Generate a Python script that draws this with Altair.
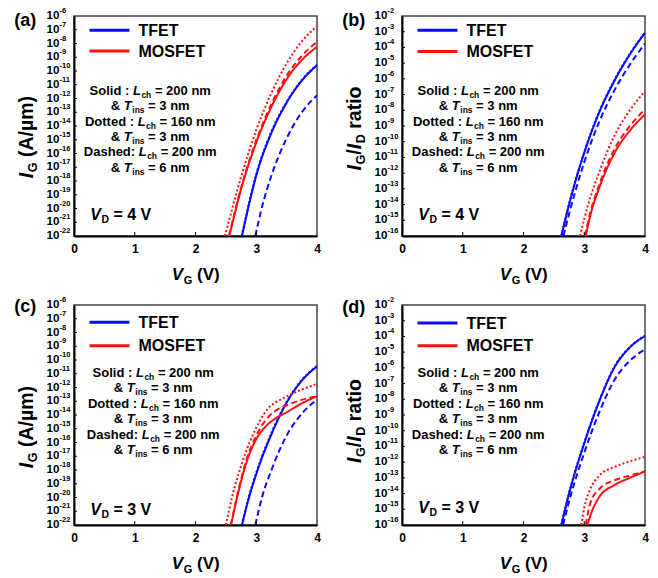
import altair as alt
import pandas as pd

# ---------------- data (log10 values) ----------------
VG_TICKS = [1, 2, 3]
EXP_IG = list(range(-22, -5))      # I_G axis: 1e-22 .. 1e-6
EXP_RATIO = list(range(-16, -1))   # I_G/I_D axis: 1e-16 .. 1e-2

# (a) I_G, V_D = 4 V
a_tfet_solid_vg = [2.766, 2.85, 3.0, 3.25, 3.5, 3.75, 4.0]
a_tfet_solid_lg = [-22, -20.3, -17.6, -14.5, -12.3, -10.7, -9.58]
a_tfet_dot_vg = [2.76, 2.85, 3.0, 3.25, 3.5, 3.75, 4.0]
a_tfet_dot_lg = [-22, -20.2, -17.5, -14.4, -12.25, -10.65, -9.55]
a_tfet_dash_vg = [2.985, 3.1, 3.25, 3.5, 3.75, 4.0]
a_tfet_dash_lg = [-22, -19.8, -17.6, -14.9, -13.0, -11.77]
a_mos_solid_vg = [2.557, 2.75, 3.0, 3.25, 3.5, 3.75, 4.0]
a_mos_solid_lg = [-22, -18.6, -15.2, -12.6, -10.6, -9.2, -8.24]
a_mos_dot_vg = [2.485, 2.75, 3.0, 3.25, 3.5, 3.75, 4.0]
a_mos_dot_lg = [-22, -17.7, -14.3, -11.6, -9.45, -7.85, -6.73]
a_mos_dash_vg = [2.55, 2.75, 3.0, 3.25, 3.5, 3.75, 4.0]
a_mos_dash_lg = [-22, -18.5, -15.05, -12.4, -10.35, -8.9, -7.88]

# (b) I_G/I_D, V_D = 4 V
b_tfet_solid_vg = [2.624, 2.75, 3.0, 3.25, 3.5, 3.75, 4.0]
b_tfet_solid_lg = [-16, -14.0, -10.7, -8.1, -6.1, -4.45, -3.07]
b_tfet_dot_vg = [2.62, 2.75, 3.0, 3.25, 3.5, 3.75, 4.0]
b_tfet_dot_lg = [-16, -13.95, -10.65, -8.05, -6.05, -4.4, -3.05]
b_tfet_dash_vg = [2.657, 2.75, 3.0, 3.25, 3.5, 3.75, 4.0]
b_tfet_dash_lg = [-16, -14.6, -11.3, -8.7, -6.7, -5.1, -3.75]
b_mos_solid_vg = [3.025, 3.1, 3.25, 3.5, 3.75, 4.0]
b_mos_solid_lg = [-16, -14.7, -12.9, -10.7, -9.3, -8.26]
b_mos_dot_vg = [2.931, 3.0, 3.25, 3.5, 3.75, 4.0]
b_mos_dot_lg = [-16, -14.9, -11.9, -9.6, -8.0, -6.79]
b_mos_dash_vg = [3.01, 3.1, 3.25, 3.5, 3.75, 4.0]
b_mos_dash_lg = [-16, -14.5, -12.7, -10.45, -9.0, -7.94]

# (c) I_G, V_D = 3 V
c_tfet_solid_vg = [2.766, 2.85, 3.0, 3.25, 3.5, 3.75, 4.0]
c_tfet_solid_lg = [-22, -20.5, -18.3, -15.4, -13.1, -11.5, -10.46]
c_tfet_dot_vg = [2.76, 2.85, 3.0, 3.25, 3.5, 3.75, 4.0]
c_tfet_dot_lg = [-22, -20.4, -18.2, -15.3, -13.05, -11.45, -10.43]
c_tfet_dash_vg = [2.985, 3.1, 3.25, 3.5, 3.75, 4.0]
c_tfet_dash_lg = [-22, -19.9, -18.0, -15.5, -13.9, -12.88]
c_mos_solid_vg = [2.585, 2.7, 2.85, 3.0, 3.15, 3.3, 3.5, 3.75, 4.0]
c_mos_solid_lg = [-22, -19.7, -17.3, -15.75, -14.85, -14.3, -13.8, -13.15, -12.64]
c_mos_dot_vg = [2.50, 2.6, 2.75, 2.9, 3.05, 3.2, 3.35, 3.5, 3.75, 4.0]
c_mos_dot_lg = [-22, -20.0, -17.7, -15.9, -14.5, -13.5, -13.0, -12.65, -12.15, -11.74]
c_mos_dash_vg = [2.58, 2.7, 2.85, 3.0, 3.15, 3.3, 3.5, 3.75, 4.0]
c_mos_dash_lg = [-22, -19.6, -17.1, -15.5, -14.4, -13.75, -13.3, -12.9, -12.62]

# (d) I_G/I_D, V_D = 3 V
d_tfet_solid_vg = [2.624, 2.75, 3.0, 3.25, 3.5, 3.75, 4.0]
d_tfet_solid_lg = [-16, -14.0, -10.8, -8.1, -5.95, -4.7, -3.97]
d_tfet_dot_vg = [2.62, 2.75, 3.0, 3.25, 3.5, 3.75, 4.0]
d_tfet_dot_lg = [-16, -13.95, -10.75, -8.05, -5.9, -4.68, -3.96]
d_tfet_dash_vg = [2.651, 2.75, 3.0, 3.25, 3.5, 3.75, 4.0]
d_tfet_dash_lg = [-16, -14.5, -11.4, -8.8, -6.75, -5.55, -4.82]
d_mos_solid_vg = [3.05, 3.15, 3.25, 3.5, 3.75, 4.0]
d_mos_solid_lg = [-16, -14.9, -14.2, -13.45, -13.0, -12.59]
d_mos_dot_vg = [2.952, 3.0, 3.1, 3.25, 3.5, 3.75, 4.0]
d_mos_dot_lg = [-16, -14.9, -13.7, -12.85, -12.3, -11.95, -11.66]
d_mos_dash_vg = [3.025, 3.1, 3.25, 3.5, 3.75, 4.0]
d_mos_dash_lg = [-16, -14.6, -13.7, -13.15, -12.85, -12.59]

# ---------------- styling ----------------
W, H = 243, 220
FONT = "Liberation Sans"
BLUE = "#0a0aff"
RED = "#ff1010"
DASH = {"solid": [1, 0], "dot": [2, 2.2], "dash": [6, 3.5]}
ONE = pd.DataFrame({"k": [0]})

CW = {' ': 278, '&': 722, '(': 333, ')': 333, ':': 333, '=': 584, '/': 278, '-': 333,
      'A': 722, 'D': 722, 'E': 667, 'F': 611, 'G': 778, 'I': 278, 'L': 611, 'M': 833,
      'O': 778, 'S': 667, 'T': 611, 'V': 667, 'a': 556, 'c': 556, 'd': 611, 'e': 556,
      'h': 611, 'i': 278, 'l': 278, 'm': 889, 'n': 611, 'o': 611, 'r': 389, 's': 556,
      't': 333, '\u00b5': 611}


def tw(s, size):
    return sum(CW.get(ch, 556) for ch in s) * size / 1000.0


def rich(pieces, x, y, size, anchor="center", angle=0, sub_scale=0.65):
    sizes = [size * sub_scale if k == "s" else size for _, k in pieces]
    widths = [tw(t, fs) for (t, _), fs in zip(pieces, sizes)]
    off = -sum(widths) / 2 if anchor == "center" else 0.0
    marks = []
    for (t, k), fs, w in zip(pieces, sizes, widths):
        lead = len(t) - len(t.lstrip(" "))
        body = t.strip(" ")
        o = off + tw(" " * lead, fs)
        shift = 0.36 * size + (0.22 * size if k == "s" else 0.0)
        if angle == 0:
            px, py = x + o, y + shift
        else:
            px, py = x + shift, y - o
        if body:
            marks.append(
                alt.Chart(ONE).mark_text(
                    text=body, font=FONT, fontSize=fs, fontWeight="bold",
                    fontStyle="italic" if k == "i" else "normal",
                    align="left", baseline="alphabetic", angle=angle, color="black",
                ).encode(x=alt.value(px), y=alt.value(py))
            )
        off += w + (0.5 if k == "i" else 0.0)
    return marks


BLOCK = [
    [("Solid : ", "n"), ("L", "i"), ("ch", "s"), (" = 200 nm", "n")],
    [("& ", "n"), ("T", "i"), ("ins", "s"), (" = 3 nm", "n")],
    [("Dotted : ", "n"), ("L", "i"), ("ch", "s"), (" = 160 nm", "n")],
    [("& ", "n"), ("T", "i"), ("ins", "s"), (" = 3 nm", "n")],
    [("Dashed: ", "n"), ("L", "i"), ("ch", "s"), (" = 200 nm", "n")],
    [("& ", "n"), ("T", "i"), ("ins", "s"), (" = 6 nm", "n")],
]

TITLE_IG = [("I", "i"), ("G", "s"), (" (A/\u00b5m)", "n")]
TITLE_RATIO = [("I", "i"), ("G", "s"), ("/", "n"), ("I", "i"), ("D", "s"), (" ratio", "n")]


def panel(tag, series, exps, ytitle, ytitle_cy, vd, p):
    ymin, ymax = exps[0], exps[-1]
    xs = alt.Scale(domain=[0, 4], nice=False, zero=False)
    ys = alt.Scale(domain=[ymin, ymax], nice=False, zero=False)
    xaxis = alt.Axis(values=[0, 1, 2, 3, 4], title=None, grid=False, ticks=False, tickSize=0,
                     labelFont=FONT, labelFontSize=12, labelFontWeight="bold", labelColor="black",
                     labelPadding=7, labelFlush=False, domainColor="black", domainWidth=2)
    yaxis = alt.Axis(title=None, grid=False, ticks=False, labels=False, tickSize=0,
                     domainColor="black", domainWidth=2)
    layers = []
    for (vg, lg, color, style) in series:
        df = pd.DataFrame({"vg": vg, "lg": lg})
        layers.append(
            alt.Chart(df).mark_line(color=color, strokeWidth=2, strokeDash=DASH[style],
                                    interpolate="monotone", clip=True)
            .encode(x=alt.X("vg:Q", scale=xs, axis=xaxis), y=alt.Y("lg:Q", scale=ys, axis=yaxis))
        )
    # inner ticks
    ydf = pd.DataFrame({"e": exps[1:-1]})
    layers.append(alt.Chart(ydf).mark_rule(color="black", strokeWidth=1)
                  .encode(y=alt.Y("e:Q", scale=ys, axis=yaxis), x=alt.value(0), x2=alt.value(3)))
    xdf = pd.DataFrame({"v": VG_TICKS})
    layers.append(alt.Chart(xdf).mark_rule(color="black", strokeWidth=1)
                  .encode(x=alt.X("v:Q", scale=xs, axis=xaxis), y=alt.value(H), y2=alt.value(H - 4)))
    # y tick labels 10^n
    ldf = pd.DataFrame({"e": exps, "base": ["10"] * len(exps), "sup": [str(e) for e in exps]})
    layers.append(alt.Chart(ldf).mark_text(font=FONT, fontSize=11.5, fontWeight="bold", color="black",
                                           align="left", baseline="middle")
                  .encode(y=alt.Y("e:Q", scale=ys, axis=yaxis), x=alt.value(-27.5), text="base:N"))
    layers.append(alt.Chart(ldf).mark_text(font=FONT, fontSize=7.5, fontWeight="bold", color="black",
                                           align="left", baseline="middle", dy=-5)
                  .encode(y=alt.Y("e:Q", scale=ys, axis=yaxis), x=alt.value(-14.5), text="sup:N"))
    # panel tag
    layers.append(alt.Chart(ONE).mark_text(text=tag, font=FONT, fontSize=18, fontWeight="bold",
                                           color="black", align="left", baseline="middle")
                  .encode(x=alt.value(-59.7), y=alt.value(p["tag_y"])))
    # legend
    for ly, color, name in [(p["leg1"], BLUE, "TFET"), (p["leg2"], RED, "MOSFET")]:
        layers.append(alt.Chart(ONE).mark_rule(color=color, strokeWidth=3)
                      .encode(x=alt.value(15.5), x2=alt.value(55.5), y=alt.value(ly)))
        layers.append(alt.Chart(ONE).mark_text(text=name, font=FONT, fontSize=16, fontWeight="bold",
                                               color="black", align="left", baseline="middle")
                      .encode(x=alt.value(64.5), y=alt.value(ly + 0.5)))
    # description block
    for i, line in enumerate(BLOCK):
        layers += rich(line, p["bcx"], p["by0"] + i * p["bsp"], 13)
    # V_D label
    layers += rich([("V", "i"), ("D", "s"), (" = %d V" % vd, "n")], 16.3, p["vd_y"], 16, anchor="left")
    # axis titles
    layers += rich([("V", "i"), ("G", "s"), (" (V)", "n")], W / 2, H + 38.3, 17)
    layers += rich(ytitle, -48.2, ytitle_cy, 19.5, angle=270)
    return alt.layer(*layers).properties(width=W, height=H)


def S(prefix):
    g = globals()
    out = []
    for dev, color in [("tfet", BLUE), ("mos", RED)]:
        for style in ["solid", "dash", "dot"]:
            out.append((g[f"{prefix}_{dev}_{style}_vg"], g[f"{prefix}_{dev}_{style}_lg"], color, style))
    return out


PA = dict(tag_y=5, leg1=14.3, leg2=35, bcx=76, by0=74.3, bsp=15.35, vd_y=198)
PB = dict(tag_y=5, leg1=14.3, leg2=35.5, bcx=76, by0=74.3, bsp=15.35, vd_y=198)
PC = dict(tag_y=1.5, leg1=17.3, leg2=40.7, bcx=79, by0=67.3, bsp=15.5, vd_y=204)
PD = dict(tag_y=3, leg1=18, leg2=40.7, bcx=76, by0=67.3, bsp=15.5, vd_y=202)

pa = panel("(a)", S("a"), EXP_IG, TITLE_IG, 121, 4, PA)
pb = panel("(b)", S("b"), EXP_RATIO, TITLE_RATIO, 113, 4, PB)
pc = panel("(c)", S("c"), EXP_IG, TITLE_IG, 122, 3, PC)
pd_ = panel("(d)", S("d"), EXP_RATIO, TITLE_RATIO, 116.5, 3, PD)

chart = (
    alt.concat(pa, pb, pc, pd_, columns=2, spacing={"row": 69, "column": 85}, bounds="flush")
    .configure_view(stroke="#444444", strokeWidth=1.5)
    .properties(padding={"left": 13, "top": 6, "right": 4, "bottom": 4}, background="white")
)
chart.save("out.html", embed_options={"renderer": "svg", "actions": False})
